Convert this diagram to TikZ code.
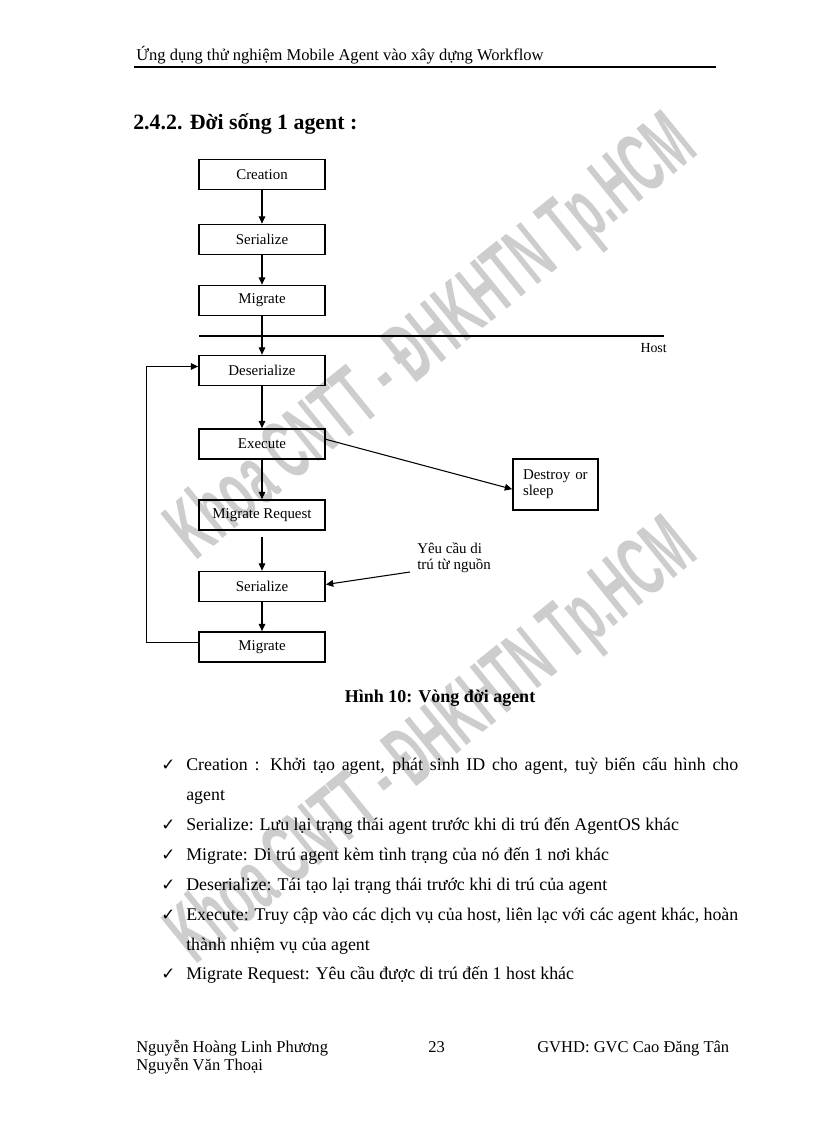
\documentclass[tikz,border=0pt]{standalone}
\usepackage{fontspec}
\setmainfont{Liberation Serif}
\newfontfamily\symfont{DejaVu Sans}
\newfontfamily\wmfont{Liberation Sans}
\usetikzlibrary{arrows.meta}
\tikzset{
  box/.style={draw, line width=1.3pt, minimum width=94.5pt, minimum height=22.5pt, inner sep=0pt, font=\fontsize{11.2}{12}\selectfont},
  flow/.style={line width=0.8pt, -{Triangle[length=5.5pt,width=5pt]}},
  bodyline/.style={anchor=base west, inner sep=0pt, font=\fontsize{13.4}{15}\selectfont},
  tick/.style={anchor=base west, inner sep=0pt, font=\symfont\fontsize{12.5}{14}\selectfont},
  plain/.style={anchor=base west, inner sep=0pt, font=\fontsize{12.4}{14}\selectfont},
  wmark/.style={text={rgb, 255:red, 205; green, 205; blue, 205 }, font=\wmfont\bfseries\fontsize{64}{64}\selectfont, rotate=39, xscale=0.52, inner sep=0pt}
}
\newcommand{\justline}[1]{\makebox[414pt][s]{#1}}
\begin{document}
\begin{tikzpicture}[x=0.75pt,y=0.75pt,yscale=-1,xscale=1]
%page of 816 x 1123
\fill [white] (0,0) rectangle (816,1123);
\useasboundingbox (0,0) rectangle (816,1123);

%Watermarks
\node [wmark] (wm1) at (434,340) {Khoa CNTT - ĐHKHTN Tp.HCM};
\node [wmark] (wm2) at (434,744) {Khoa CNTT - ĐHKHTN Tp.HCM};

%Header
\node [plain] (head) at (136,61) {Ứng dụng thử nghiệm Mobile Agent vào xây dựng Workflow};
\draw [line width=1pt] (134,67) -- (716,67);
\node [anchor=base west, inner sep=0pt, font=\bfseries\fontsize{16.4}{18}\selectfont] (sect) at (133,130) {2.4.2. Đời sống 1 agent :};

%Shape: Rectangle
\node [box] (cre) at (262,174.5) {Creation};
\node [box] (ser) at (262,239.5) {Serialize};
\node [box] (mig) at (262,300.5) {Migrate};
\node [box] (des) at (262,370.5) {Deserialize};
\node [box] (exe) at (262,444) {Execute};
\node [box] (mreq) at (262,515) {Migrate Request};
\node [box] (ser2) at (262,586.5) {Serialize};
\node [box] (mig2) at (262,647) {Migrate};
\node [box, minimum width=63.75pt, minimum height=38.25pt, text width=48.75pt, inner xsep=7.5pt, align=left] (dst) at (555.5,484.5) {Destroy or\\sleep};

%Straight Lines (host border)
\coordinate (hl) at (199,336);
\coordinate (hr) at (664,336);
\draw [line width=0.8pt] (hl) -- (hr);
\node [anchor=base east, inner sep=0pt, font=\fontsize{10.4}{12}\selectfont] (host) at (667,352) {Host};

%Text Node
\node [anchor=north west, align=left, inner sep=0pt, font=\fontsize{11.2}{12}\selectfont] (src) at (417,542) {Yêu cầu di\\trú từ nguồn};
\coordinate (srcpt) at (410,572);

%Straight Lines
\draw [flow] (cre) -- (ser);
\draw [flow] (ser) -- (mig);
\draw [flow] (mig) -- (des);
\draw [flow] (des) -- (exe);
\draw [flow] (exe) -- (mreq);
\draw [flow, shorten <=4.5pt] (mreq) -- (ser2);
\draw [flow] (ser2) -- (mig2);
\draw [flow] ([yshift=-3.5pt]exe.east) -- ([yshift=3.5pt]dst.west);
\draw [flow] (srcpt) -- ([yshift=-1.5pt]ser2.east);
\draw [flow] ([yshift=-3.5pt]mig2.west) -- ++(-52,0) |- ([yshift=-3pt]des.west);

%Caption
\node [anchor=base, inner sep=0pt, font=\bfseries\fontsize{13.5}{15}\selectfont] (cap) at (440,702) {Hình 10: Vòng đời agent};

%List
\node [tick] (t1) at (161,770) {✓};
\node [bodyline] (l1) at (186,770) {\justline{Creation : Khởi tạo agent, phát sinh ID cho agent, tuỳ biến cấu hình cho}};
\node [bodyline] (l1b) at (186,800) {agent};
\node [tick] (t2) at (161,830) {✓};
\node [bodyline] (l2) at (186,830) {Serialize: Lưu lại trạng thái agent trước khi di trú đến AgentOS khác};
\node [tick] (t3) at (161,860) {✓};
\node [bodyline] (l3) at (186,860) {Migrate: Di trú agent kèm tình trạng của nó đến 1 nơi khác};
\node [tick] (t4) at (161,890) {✓};
\node [bodyline] (l4) at (186,890) {Deserialize: Tái tạo lại trạng thái trước khi di trú của agent};
\node [tick] (t5) at (161,920) {✓};
\node [bodyline] (l5) at (186,920) {\justline{Execute: Truy cập vào các dịch vụ của host, liên lạc với các agent khác, hoàn}};
\node [bodyline] (l5b) at (186,950) {thành nhiệm vụ của agent};
\node [tick] (t6) at (161,979) {✓};
\node [bodyline] (l6) at (186,979) {Migrate Request: Yêu cầu được di trú đến 1 host khác};

%Footer
\node [plain] (f1) at (136,1052) {Nguyễn Hoàng Linh Phương};
\node [plain] (f2) at (136,1070) {Nguyễn Văn Thoại};
\node [plain] (pg) at (428,1052) {23};
\node [plain] (f3) at (537,1052) {GVHD: GVC Cao Đăng Tân};

\end{tikzpicture}
\end{document}
